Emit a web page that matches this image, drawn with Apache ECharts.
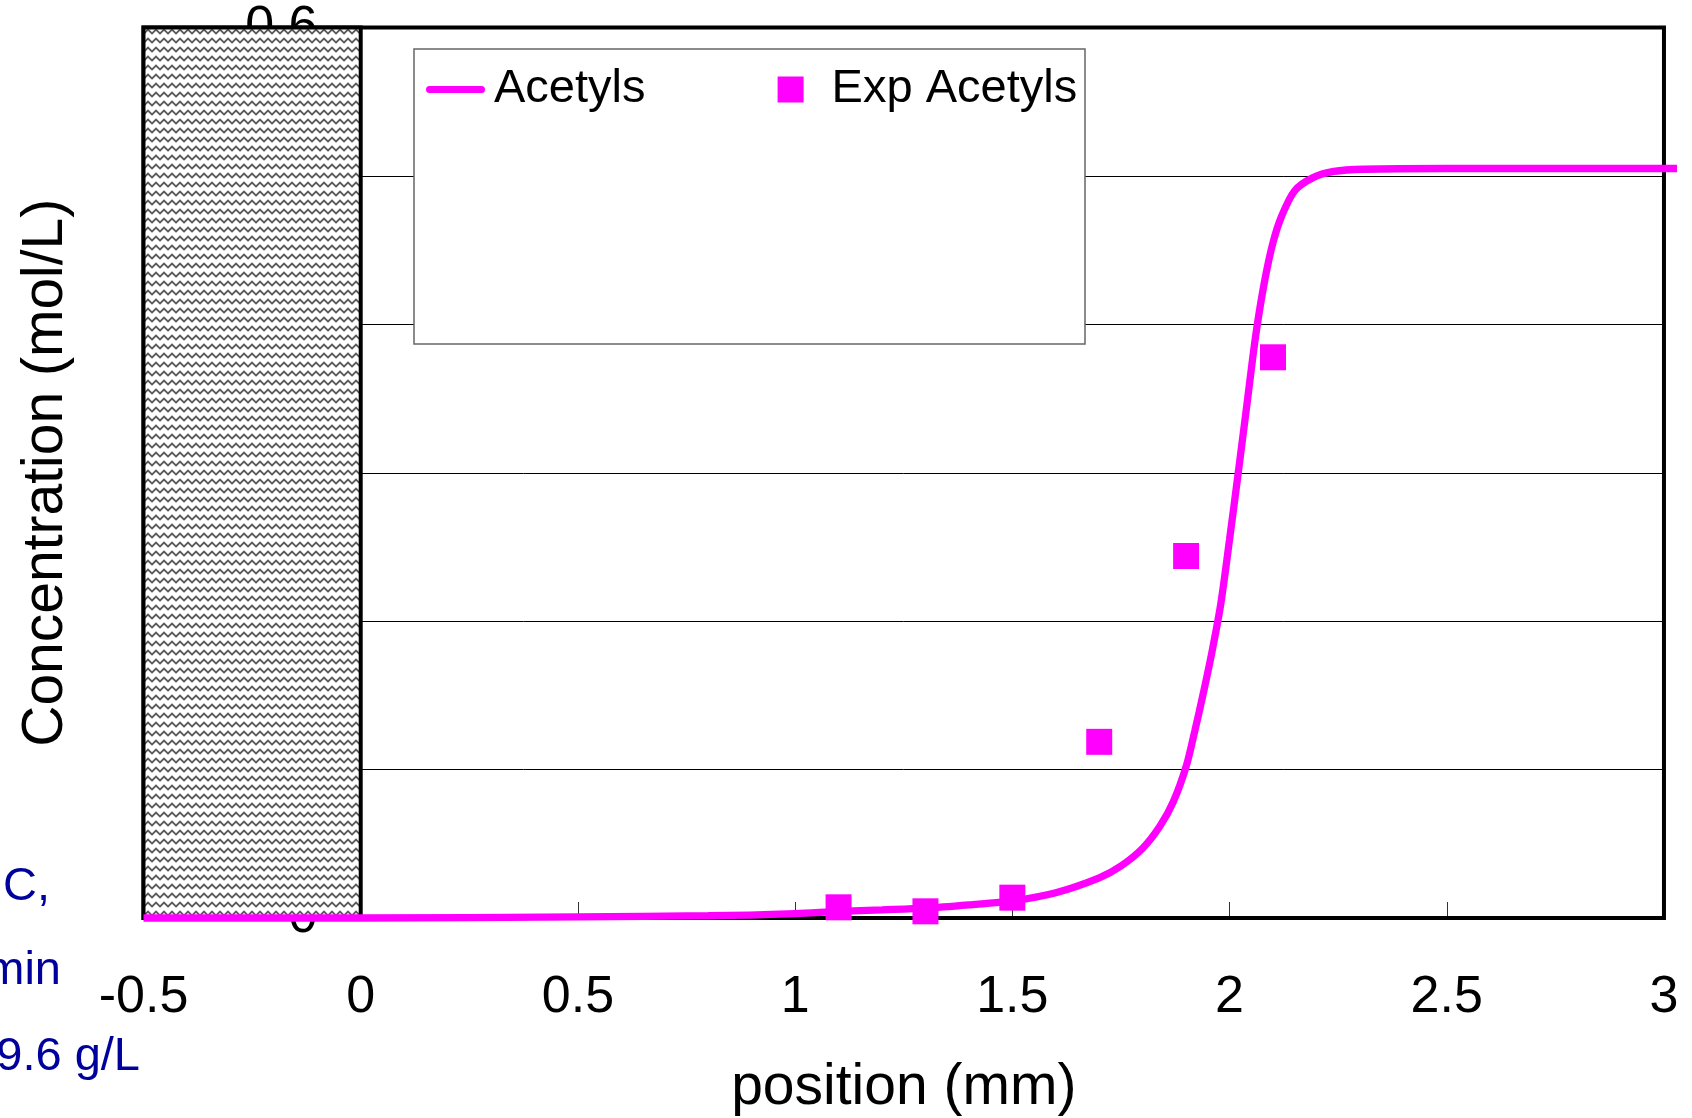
<!DOCTYPE html>
<html>
<head>
<meta charset="utf-8">
<script src="https://cdn.jsdelivr.net/npm/echarts@6/dist/echarts.min.js"></script>
<style>
html, body { margin: 0; padding: 0; background: #fff; }
#chart { width: 1692px; height: 1118px; }
</style>
</head>
<body>
<div id="chart"></div>
<script>
// model curve
const curveX = [-0.5, 0, 0.5, 0.8, 1.0, 1.1, 1.2, 1.3, 1.4, 1.5, 1.6, 1.7, 1.75, 1.8, 1.84, 1.87, 1.9, 1.92, 1.94, 1.96, 1.98, 2.0, 2.02, 2.04, 2.06, 2.08, 2.1, 2.12, 2.15, 2.19, 2.24, 2.31, 2.5, 3.03];
const curveY = [0, 0, 0.0008, 0.0015, 0.003, 0.0045, 0.0055, 0.0066, 0.0088, 0.0115, 0.017, 0.027, 0.035, 0.047, 0.062, 0.078, 0.102, 0.126, 0.152, 0.18, 0.212, 0.255, 0.3, 0.346, 0.392, 0.428, 0.455, 0.473, 0.49, 0.4985, 0.503, 0.5045, 0.505, 0.505];
// experimental points
const expX = [1.1, 1.3, 1.5, 1.7, 1.9, 2.1];
const expY = [0.0072, 0.0045, 0.0137, 0.1187, 0.2439, 0.3778];
// axis ticks / labels / gridlines
const xLabels = [-0.5, 0, 0.5, 1, 1.5, 2, 2.5, 3];
const xTicks = [0.5, 1, 1.5, 2, 2.5];
const yGrid = [0.1, 0.2, 0.3, 0.4, 0.5];
// cut-off note on the left
const noteLines = ['C,', 'min', '39.6 g/L'];

const FONT = '"Liberation Sans", Arial, sans-serif';

function zigzag() {
	const c = document.createElement('canvas');
	c.width = 8;
	c.height = 9;
	const g = c.getContext('2d');
	g.fillStyle = '#ffffff';
	g.fillRect(0, 0, 8, 9);
	g.strokeStyle = '#5a5a5a';
	g.lineWidth = 1.8;
	g.beginPath();
	g.moveTo(-1, 7.5);
	g.lineTo(0, 6.5);
	g.lineTo(4, 2.5);
	g.lineTo(8, 6.5);
	g.lineTo(9, 5.5);
	g.stroke();
	return c;
}

const chart = echarts.init(document.getElementById('chart'));
const option = {
	animation: false,
	textStyle: { fontFamily: FONT },
	// grid runs a little past x=3 so the curve can overshoot the frame
	grid: {
		left: 143.5, right: 15, top: 27.5, bottom: 200,
		show: false,
		outerBoundsMode: 'none'
	},
	xAxis: {
		type: 'value',
		min: -0.5,
		max: 3.03,
		interval: 0.5,
		name: 'position (mm)',
		nameLocation: 'middle',
		nameGap: 142,
		nameMoveOverlap: false,
		nameTextStyle: { fontSize: 57, color: '#000', fontFamily: FONT, padding: [0, 13, 0, 0] },
		axisLine: { show: false },
		axisTick: { show: true, inside: true, length: 16, customValues: xTicks, lineStyle: { color: '#333', width: 1 } },
		axisLabel: {
			fontSize: 52, color: '#000', margin: 54, fontFamily: FONT,
			customValues: xLabels,
			formatter: function (v) { return v > 3.001 ? '' : String(v); }
		},
		splitLine: { show: false }
	},
	yAxis: {
		type: 'value',
		min: 0,
		max: 0.6,
		interval: 0.1,
		name: 'Concentration (mol/L)',
		nameLocation: 'middle',
		nameGap: 69,
		nameMoveOverlap: false,
		nameTextStyle: { fontSize: 57, color: '#000', fontFamily: FONT },
		axisLine: { show: false },
		axisTick: { show: false },
		axisLabel: {
			fontSize: 52,
			color: '#000',
			margin: -174,
			fontFamily: FONT,
			formatter: function (v) {
				return (Math.abs(v) < 1e-9 || Math.abs(v - 0.6) < 1e-9) ? String(v) : '';
			}
		},
		splitLine: { show: false }
	},
	legend: [{
		data: [{ name: 'Acetyls', icon: 'path://M3.5,0H55.5A3.5,3.5,0,0,1,55.5,7H3.5A3.5,3.5,0,0,1,3.5,0Z' }],
		left: 426,
		top: 66,
		padding: 0,
		itemWidth: 59,
		itemHeight: 7,
		selectedMode: false,
		itemStyle: { color: '#ff00ff', borderWidth: 0 },
		textStyle: { fontSize: 47, color: '#000', fontFamily: FONT, padding: [0, 0, 0, 4] }
	}, {
		data: [{ name: 'Exp Acetyls', icon: 'rect' }],
		left: 777.6,
		top: 66,
		padding: 0,
		itemWidth: 26,
		itemHeight: 26,
		selectedMode: false,
		itemStyle: { color: '#ff00ff', opacity: 1 },
		textStyle: { fontSize: 47, color: '#000', fontFamily: FONT, padding: [0, 0, 0, 23] }
	}],
	graphic: [
		{ type: 'rect', z: 3, shape: { x: 414, y: 49, width: 671, height: 295 }, style: { fill: '#fff', stroke: '#666', lineWidth: 1.5 } },
		{ type: 'text', x: 50, y: 886.6, style: { text: noteLines[0], font: '47px ' + FONT, fill: '#00009c', align: 'right', verticalAlign: 'middle' } },
		{ type: 'text', x: 61, y: 970.6, style: { text: noteLines[1], font: '47px ' + FONT, fill: '#00009c', align: 'right', verticalAlign: 'middle' } },
		{ type: 'text', x: 140, y: 1056.6, style: { text: noteLines[2], font: '47px ' + FONT, fill: '#00009c', align: 'right', verticalAlign: 'middle' } }
	],
	series: [{
		// horizontal gridlines
		type: 'line',
		name: 'grid',
		data: [],
		z: 0,
		markLine: {
			silent: true,
			z: 0,
			symbol: 'none',
			label: { show: false },
			lineStyle: { color: '#000', width: 1, type: 'solid' },
			data: yGrid.map(function (v) {
				return [{ xAxis: -0.5, yAxis: v }, { xAxis: 3, yAxis: v }];
			})
		}
	}, {
		// plot frame and the hatched block
		type: 'line',
		name: 'box',
		data: [],
		z: 1,
		markArea: {
			silent: true,
			z: 2,
			data: [
				[{ xAxis: -0.5, yAxis: 0, itemStyle: { color: 'rgba(0,0,0,0)', borderColor: '#000', borderWidth: 4 } }, { xAxis: 3, yAxis: 0.6 }],
				[{ xAxis: -0.5, yAxis: 0, itemStyle: { color: { image: zigzag(), repeat: 'repeat' }, borderColor: '#000', borderWidth: 4 } }, { xAxis: 0, yAxis: 0.6 }]
			]
		}
	}, {
		type: 'line',
		name: 'Acetyls',
		data: curveX.map(function (x, i) { return [x, curveY[i]]; }),
		symbol: 'none',
		showSymbol: false,
		smooth: 0.3,
		clip: false,
		z: 3,
		lineStyle: { color: '#ff00ff', width: 7.3 },
		itemStyle: { color: '#ff00ff' }
	}, {
		type: 'scatter',
		name: 'Exp Acetyls',
		data: expX.map(function (x, i) { return [x, expY[i]]; }),
		symbol: 'rect',
		symbolSize: 26,
		z: 4,
		itemStyle: { color: '#ff00ff', opacity: 1 }
	}]
};
chart.setOption(option);
</script>
</body>
</html>
